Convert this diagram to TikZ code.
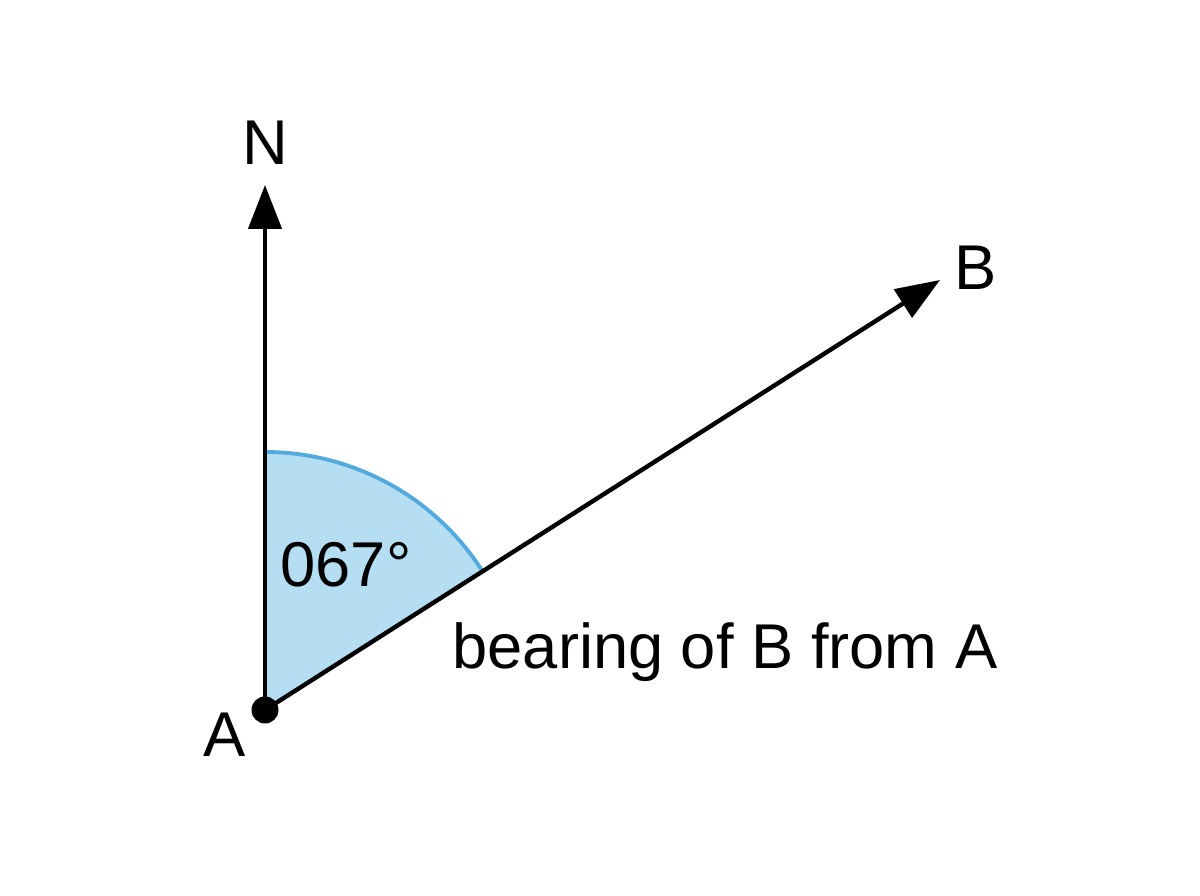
\documentclass[tikz,border=0pt]{standalone}
\usepackage{fontspec}
\setmainfont{Liberation Sans}
\usetikzlibrary{arrows.meta}
\begin{document}
\begin{tikzpicture}[line width=1.25pt,
  ray/.style={-{Triangle[length=0.44cm,width=0.33cm]}},
  lbl/.style={font=\fontsize{18}{22}\selectfont, inner sep=0pt}]
\useasboundingbox (0,0) rectangle (12,8.96);
\definecolor{sector}{RGB}{182,222,242}
\definecolor{arcline}{RGB}{82,170,222}
\coordinate (A) at (2.65,1.86);
\coordinate (N) at (2.65,7.11);
\coordinate (B) at (9.40,6.16);
% angle sector
\fill[sector] (A) -- ++(90:2.58) arc (90:32.5:2.58) -- cycle;
\draw[arcline, line width=1.1pt] (A) ++(90:2.58) arc (90:32.5:2.58);
\draw[ray] (A) -- (N);
\draw[ray] (A) -- (B);
\fill (A) circle (0.135);
\node[lbl] (lblN) at (2.65,7.53) {N};
\node[lbl] (lblB) at (9.76,6.28) {B};
\node[lbl] (lblA) at (2.25,1.61) {A};
\node[lbl] (ang) at (3.46,3.31) {067°};
\node[lbl] (txt) at (7.25,2.44) {bearing of B from A};
\end{tikzpicture}
\end{document}
